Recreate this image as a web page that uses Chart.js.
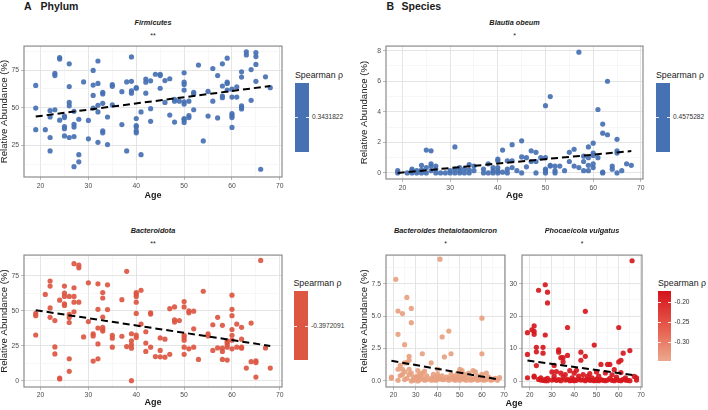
<!DOCTYPE html>
<html>
<head>
<meta charset="utf-8">
<script src="https://cdn.jsdelivr.net/npm/chart.js@4"></script>
<style>
body{margin:0;background:#fff;font-family:"Liberation Sans",Arial,sans-serif;}
#fig{position:relative;width:708px;height:410px;overflow:hidden;background:#fff;}
#fig canvas{position:absolute;}
.t{position:absolute;white-space:nowrap;color:#1a1a1a;line-height:1;}
.hd{font-weight:bold;font-size:10.5px;}
.pt{font-weight:bold;font-style:italic;font-size:7.3px;transform:translate(-50%,-50%);}
.sig{font-size:7px;transform:translate(-50%,-50%);}
.ax{font-weight:bold;font-size:9px;transform:translate(-50%,-50%);}
.lt{font-size:8.8px;transform:translateY(-50%);}
.lv{font-size:6.6px;color:#333;transform:translateY(-50%);}
.bar{position:absolute;}
.tk{position:absolute;height:1px;width:3px;background:rgba(255,255,255,0.85);}
</style>
</head>
<body>
<div id="fig"></div>
<script>
// ---- data ----
const trendAge = [19, 68];

const firmAge = [19,19,19,21,22,22,22,22,23,23,23,24,24,24,25,25,25,25,25,26,26,26,26,26,27,27,27,27,27,28,28,28,29,30,30,31,31,31,31,32,32,32,32,32,33,33,33,33,33,34,34,35,35,35,37,37,38,38,39,39,39,39,40,40,40,40,40,40,40,41,41,42,42,42,43,43,43,44,45,45,45,46,46,47,47,48,48,48,49,50,50,50,50,50,50,50,50,50,51,51,51,52,52,52,53,54,55,55,56,56,57,57,58,58,58,58,59,59,59,59,60,60,60,60,60,60,61,61,62,62,62,62,62,63,63,64,64,65,65,65,65,66,67,68];
const firmVal = [64.9,49.8,35.5,35.5,48.1,43.9,30.3,21.4,72.9,71.4,48.7,83.4,82.4,41.8,44.5,43.5,37.6,36.1,31.3,79.2,64.1,53.6,51.3,30.3,47.7,39.1,37.2,30.9,10.9,42.4,18.9,14.1,67.2,41.6,29.4,74.8,65.1,58.2,49.8,81.1,66.2,51.7,47.3,27.1,60.3,59.2,53.0,34.7,33.4,43.9,25.6,65.5,64.3,51.9,60.7,38.9,67.2,21.4,83.8,67.6,61.3,59.7,63.4,63.0,42.9,38.2,37.2,34.7,33.4,47.3,18.9,69.1,67.0,59.7,67.9,49.4,41.0,72.3,72.3,71.4,63.0,68.1,53.6,69.3,45.2,55.7,54.4,40.5,54.4,73.3,67.0,65.5,61.8,54.0,52.5,42.9,42.0,40.3,54.4,44.9,43.5,60.3,59.2,48.7,78.4,28.0,60.9,44.5,76.1,54.4,71.4,43.3,79.2,64.5,57.8,56.7,83.0,67.0,66.2,61.8,62.4,57.1,46.2,44.9,43.5,37.0,63.9,57.1,73.9,70.4,51.3,50.2,49.2,87.2,85.1,75.4,55.0,86.6,84.0,78.8,67.6,9.2,70.6,63.4];
const firmTrend = [44.2, 64.5];

const bactAge = [19,19,19,21,22,22,22,22,23,23,23,24,24,24,25,25,25,25,25,26,26,26,26,26,26,27,27,27,27,27,28,28,28,29,30,30,31,31,31,32,32,32,32,32,33,33,33,33,33,33,34,34,35,35,35,37,37,38,38,39,39,39,39,39,40,40,40,40,40,40,40,41,41,42,42,42,43,43,43,44,45,45,45,46,46,47,47,48,48,48,49,50,50,50,50,50,50,50,51,51,51,52,52,52,53,54,55,55,56,56,57,57,58,58,58,58,59,59,59,59,59,60,60,60,60,60,60,60,61,61,62,62,62,62,63,64,64,65,65,65,66,67,68];
const bactVal = [48.2,46.6,32.8,61.7,71.3,67.7,52.1,45.4,43.1,24.3,19.3,57.6,2.1,1.4,67.7,62.6,60.3,55.0,53.9,60.3,47.5,45.2,41.7,15.8,6.9,83.7,66.5,60.3,56.2,49.3,82.6,80.7,56.2,31.4,70.0,42.4,33.7,32.1,14.2,69.3,51.1,37.8,26.4,15.8,63.1,59.2,45.6,38.3,36.7,35.6,68.6,50.9,32.6,30.5,24.1,58.0,31.9,78.2,24.5,33.7,28.7,25.9,23.4,0.2,63.1,61.9,60.3,56.2,48.2,32.8,31.0,64.7,40.6,35.1,27.1,21.1,48.6,47.7,24.1,17.4,30.7,21.8,17.2,29.8,17.0,51.6,19.0,52.8,43.6,42.0,43.1,56.7,52.8,32.6,31.0,29.1,24.1,19.0,50.0,48.6,22.9,49.8,37.2,24.1,15.4,64.0,33.7,32.1,40.1,21.8,45.4,23.6,39.7,23.4,21.1,15.4,28.7,27.5,25.9,24.1,14.9,61.2,51.1,46.6,36.7,32.6,29.1,22.9,40.6,24.1,38.3,29.8,24.1,23.4,9.2,41.3,13.8,14.4,13.1,2.8,86.0,23.6,9.2];
const bactTrend = [50.5, 25.0];

const blautiaAge = [19,19,21,22,22,22,23,23,24,24,24,25,25,25,26,26,26,26,27,27,27,28,29,30,30,31,31,31,32,32,32,33,33,34,34,34,35,35,37,37,38,38,39,39,39,40,40,40,40,40,41,41,42,42,42,43,43,43,44,45,45,45,46,46,47,47,48,48,48,49,50,50,50,50,50,51,51,51,52,52,52,53,54,55,55,56,56,57,57,58,58,58,59,59,59,59,60,60,60,60,60,61,61,62,62,62,62,63,63,64,64,65,65,65,65,66,67,68];
const blautiaVal = [0.15,0,0,0.25,0.15,0,0.15,0,0.5,0.2,0,1.5,0.35,0,1.45,0.6,0.45,0.15,0.45,0.25,0,0,0,0.15,0,1.7,0.25,0,0.35,0.15,0,0.25,0,0.55,0.2,0,0.45,0.15,0.25,0,0.6,0,0.35,0.15,0,0.9,0.8,0.35,0.15,0,1.5,0.05,0.8,0.25,0,1.85,0.8,0.35,0.15,2.1,1.05,0,1.0,0.4,1.45,0.75,1.35,0.75,0,1.0,4.4,1.0,0.25,0.15,0,5.0,0.5,0.45,0.45,0.15,0,0.45,0.15,1.35,0.75,1.55,0.45,7.9,0.35,1.1,0.75,0.15,1.7,1.0,0.5,0.15,1.95,1.3,1.15,0.6,0.35,4.15,1.0,3.2,2.6,0.05,0,6.0,2.5,0.45,0.25,2.2,1.45,1.3,0,0.15,0.6,0.5];
const blautiaTrend = [0.0, 1.43];

const thetaAge = [19,19,21,22,22,22,22,23,23,24,24,24,25,25,25,25,26,26,26,27,27,27,27,28,28,28,28,29,29,30,30,31,31,31,31,32,32,33,33,33,34,34,35,35,37,37,37,38,38,39,39,40,40,40,40,41,41,42,42,42,43,43,44,45,45,45,46,46,47,47,48,48,49,49,50,50,50,50,51,51,52,52,53,53,54,55,55,56,56,57,57,58,58,59,59,60,60,60,60,61,61,62,62,63,64,64,65,66,67,68];
const thetaVal = [0.3,0.2,7.85,5.4,3.6,0.9,0.05,1.2,0.4,5.2,0.5,0.9,2.8,1.4,0.1,0.7,6.45,1.4,0.2,1.9,1.6,0.9,0.5,5.6,4.5,0.6,0,0.05,0.3,0.1,0.3,0.4,0,0.2,0.8,0.5,0.1,2.1,0.25,0.6,0.75,0.05,0.1,0.4,1.4,0.2,0.05,0.5,0.1,0.3,0.05,0.9,0.3,0.1,0.5,9.4,0.2,3.4,0.4,0.1,1.85,0.1,0.3,3.85,0.2,0.05,2.1,0.5,0.3,0.1,0.4,0.05,0.6,0.2,0.9,0.3,0.05,0.6,0.8,0.2,0.1,0.5,0.05,0.3,0.6,0.2,0.05,0.8,0.1,0.7,0.2,0.4,0.05,0.1,0.3,4.85,2.1,0.5,0.1,0.2,0.05,0.6,0.1,0.3,0.05,0.15,0.1,0.2,0.05,0.25];
const thetaTrend = [1.55, 0.1];

const phocAge = [19,19,19,21,22,22,22,22,22,23,23,23,24,24,25,25,26,26,26,27,27,27,27,28,28,28,28,30,30,31,31,31,32,32,33,33,33,34,34,34,35,35,35,36,36,37,37,37,38,38,39,39,40,40,40,41,41,42,42,43,43,43,44,44,45,45,45,46,46,47,47,48,48,49,49,50,50,50,51,51,52,52,53,54,54,55,55,56,56,57,57,58,58,59,59,60,60,60,61,61,61,62,62,63,63,64,65,65,66,67,68,68];
const phocVal = [14.9,8.2,1.0,15.8,17.0,15.3,14.4,1.5,1.2,10.4,9.0,4.75,28.0,0.5,0.3,1.0,10.4,8.6,0.2,29.7,14.2,0.5,0.1,27.4,24.1,0.1,0.8,2.8,0.3,4.8,0.5,1.5,2.9,0.2,9.6,8.9,0.4,7.2,2.4,0.1,7.2,5.9,1.2,0.3,2.0,16.5,7.9,0.5,0.1,3.2,1.0,0.2,2.4,0.4,0.1,3.3,0.2,1.5,0.6,8.9,6.4,0.3,0.4,2.0,21.5,7.6,0.1,1.4,0.5,0.2,2.3,0.3,1.0,11.1,0.1,2.8,0.6,0.2,0.1,1.5,5.1,0.4,0.2,2.5,0.1,5.1,0.3,5.1,0.8,0.2,1.9,3.5,0.1,0.4,1.2,16.5,5.9,0.2,6.4,2.6,0.1,8.6,0.5,0.3,1.0,0.2,9.4,0.1,37.1,1.4,1.0,0.3];
const phocTrend = [6.3, 1.7];

const xTicks = [20,25,30,35,40,45,50,55,60,65,70];
const xMajor = [20,30,40,50,60,70];
const rhoLabels = ["0.3431822", "-0.3972091", "0.4575282"];
const phocRhoTicks = [-0.20, -0.25, -0.30];
const phocRhoRange = [-0.3475, -0.1725];

const FONT = "'Liberation Sans', Arial, sans-serif";
const fig = document.getElementById('fig');

const frame = {
  id: 'frame',
  afterDatasetsDraw(ch) {
    const a = ch.chartArea, c = ch.ctx;
    c.save();
    c.strokeStyle = '#8c8c8c';
    c.lineWidth = 1.2;
    c.strokeRect(a.left, a.top, a.right - a.left, a.bottom - a.top);
    c.restore();
  }
};

function axis(all, major, fmt, min, max, size, horiz, title, titlePad, tickPad) {
  const isMaj = c => c.tick && major.includes(c.tick.value);
  return {
    type: 'linear', min: min, max: max,
    afterBuildTicks: s => { s.ticks = all.map(v => ({value: v})); },
    afterFit: s => { if (horiz) s.height = size; else s.width = size; },
    ticks: {
      autoSkip: false, maxRotation: 0, padding: tickPad, color: '#4d4d4d',
      font: {family: FONT, size: 6.8},
      callback: v => major.includes(v) ? fmt(v) : ''
    },
    grid: {
      color: c => isMaj(c) ? '#e2e2e2' : '#f1f1f1',
      lineWidth: c => isMaj(c) ? 0.9 : 0.6,
      tickColor: c => isMaj(c) ? '#b3b3b3' : 'rgba(0,0,0,0)',
      tickLength: 3
    },
    border: {display: false},
    title: {
      display: !!title, text: title || '', color: '#1a1a1a',
      font: horiz ? {family: FONT, size: 9, weight: 'bold', lineHeight: 1}
                  : {family: FONT, size: 9.6, lineHeight: 1},
      padding: horiz ? {top: 0, bottom: titlePad} : {top: 0, bottom: 0}
    }
  };
}

function panel(p) {
  const cv = document.createElement('canvas');
  cv.width = p.w; cv.height = p.h;
  cv.style.left = p.left + 'px';
  cv.style.top = p.top + 'px';
  fig.appendChild(cv);
  const pts = p.ages.map((a, i) => ({x: a, y: p.vals[i]}));
  const line = trendAge.map((a, i) => ({x: a, y: p.trend[i]}));
  new Chart(cv, {
    type: 'scatter',
    data: {datasets: [
      {type: 'line', data: line, borderColor: '#000', borderWidth: 2, borderDash: [7, 4], pointRadius: 0, fill: false},
      {data: pts, backgroundColor: p.color, borderWidth: 0, pointRadius: 2.6}
    ]},
    options: {
      responsive: false, animation: false, events: [],
      layout: {padding: {top: 3, right: 4, left: 0, bottom: 0}},
      plugins: {legend: {display: false}, tooltip: {enabled: false}},
      scales: {
        x: axis(xTicks, xMajor, v => String(v), 16.55, 70.45, p.xH, true, p.xTitle, p.xPad, p.xTickPad),
        y: axis(p.yTicks, p.yMajor, p.fmt, p.ymin, p.ymax, p.yW, false, p.yTitle, 0, 2)
      }
    },
    plugins: [frame]
  });
}

function txt(cls, s, x, y) {
  const d = document.createElement('div');
  d.className = 't ' + cls;
  d.textContent = s;
  d.style.left = x + 'px';
  d.style.top = y + 'px';
  fig.appendChild(d);
}

function bar(x, y, w, h, fill, tickYs, labels) {
  const b = document.createElement('div');
  b.className = 'bar';
  b.style.cssText = `left:${x}px;top:${y}px;width:${w}px;height:${h}px;background:${fill};`;
  fig.appendChild(b);
  tickYs.forEach((ty, i) => {
    [x, x + w - 3].forEach(tx => {
      const k = document.createElement('div');
      k.className = 'tk';
      k.style.left = tx + 'px';
      k.style.top = (ty - 0.5) + 'px';
      fig.appendChild(k);
    });
    txt('lv', labels[i], x + w + 3.5, ty);
  });
}

const YT = 'Relative Abundance (%)';

panel({left: 0, top: 40, w: 286, h: 166, yW: 24, xH: 29, xPad: 5.5, xTickPad: 2, xTitle: 'Age', yTitle: YT,
  ages: firmAge, vals: firmVal, trend: firmTrend, color: 'rgba(70,113,178,0.92)',
  ymin: 4.05, ymax: 91, yTicks: [12.5, 25, 37.5, 50, 62.5, 75, 87.5], yMajor: [25, 50, 75], fmt: v => String(v)});

panel({left: 0, top: 249, w: 286, h: 161, yW: 24, xH: 23, xPad: 2.5, xTickPad: 1, xTitle: 'Age', yTitle: YT,
  ages: bactAge, vals: bactVal, trend: bactTrend, color: 'rgba(220,86,66,0.92)',
  ymin: -4.3, ymax: 89.8, yTicks: [0, 12.5, 25, 37.5, 50, 62.5, 75, 87.5], yMajor: [0, 25, 50, 75], fmt: v => String(v)});

panel({left: 360, top: 40, w: 287, h: 166, yW: 26, xH: 27, xPad: 5.5, xTickPad: 2, xTitle: 'Age', yTitle: YT,
  ages: blautiaAge, vals: blautiaVal, trend: blautiaTrend, color: 'rgba(70,113,178,0.92)',
  ymin: -0.395, ymax: 8.3, yTicks: [0, 1, 2, 3, 4, 5, 6, 7, 8], yMajor: [0, 2, 4, 6, 8], fmt: v => String(v)});

panel({left: 360, top: 249, w: 149, h: 161, yW: 26, xH: 23, xPad: 0, xTickPad: 1, xTitle: '', yTitle: YT,
  ages: thetaAge, vals: thetaVal, trend: thetaTrend, color: 'rgba(232,161,128,0.92)',
  ymin: -0.47, ymax: 9.72, yTicks: [0, 1.25, 2.5, 3.75, 5, 6.25, 7.5, 8.75], yMajor: [0, 2.5, 5, 7.5], fmt: v => v.toFixed(1)});

panel({left: 508, top: 249, w: 138, h: 161, yW: 14, xH: 23, xPad: 0, xTickPad: 1, xTitle: '', yTitle: '',
  ages: phocAge, vals: phocVal, trend: phocTrend, color: 'rgba(214,24,30,0.92)',
  ymin: -1.85, ymax: 38.85, yTicks: [0, 5, 10, 15, 20, 25, 30, 35], yMajor: [0, 10, 20, 30], fmt: v => String(v)});

// headers and plot titles
txt('hd', 'A', 24, 0.5);
txt('hd', 'Phylum', 40.5, 0.5);
txt('hd', 'B', 386.5, 0.5);
txt('hd', 'Species', 401.5, 0.5);

txt('pt', 'Firmicutes', 153, 22.7);
txt('sig', '**', 153, 35);
txt('pt', 'Bacteroidota', 153, 230.7);
txt('sig', '**', 153, 243);
txt('pt', 'Blautia obeum', 514.5, 22.7);
txt('sig', '*', 514.5, 35);
txt('pt', 'Bacteroides thetaiotaomicron', 445.5, 230.7);
txt('sig', '*', 445.5, 243);
txt('pt', 'Phocaeicola vulgatus', 582, 230.7);
txt('sig', '*', 582, 243);
txt('ax', 'Age', 514, 403.3);

// colour bar legends
txt('lt', 'Spearman \u03c1', 295, 75);
bar(295, 83, 13.5, 69, '#4671B2', [117], [rhoLabels[0]]);
txt('lt', 'Spearman \u03c1', 293.5, 283);
bar(293.5, 291, 14, 69, '#DC5642', [326], [rhoLabels[1]]);
txt('lt', 'Spearman \u03c1', 656, 75);
bar(656, 83, 13.5, 69, '#4671B2', [117], [rhoLabels[2]]);

txt('lt', 'Spearman \u03c1', 658, 283);
const gTop = 291, gH = 70;
const span = phocRhoRange[1] - phocRhoRange[0];
bar(658, gTop, 13, gH, 'linear-gradient(#D5121C, #E7604F 55%, #EBA98E)',
  phocRhoTicks.map(v => gTop + (phocRhoRange[1] - v) / span * gH),
  phocRhoTicks.map(v => v.toFixed(2)));
</script>
</body>
</html>
